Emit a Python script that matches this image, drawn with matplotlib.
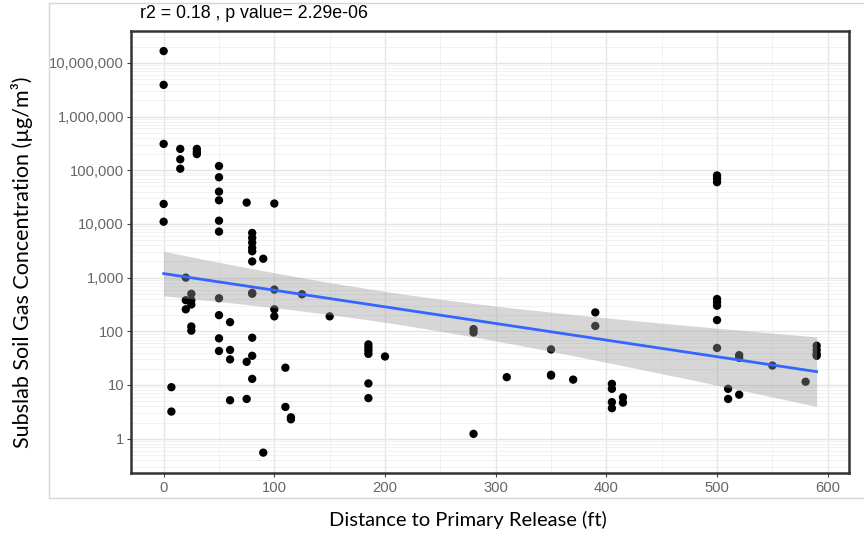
import numpy as np
import matplotlib
matplotlib.use("Agg")
import matplotlib.pyplot as plt
from matplotlib.ticker import FixedLocator, FuncFormatter
from matplotlib.lines import Line2D

# ---- data ----
distance_ft = [
    0, 0, 0, 0, 0,
    7, 7,
    15, 15, 15,
    20, 20, 20,
    25, 25, 25, 25, 25,
    30, 30, 30,
    50, 50, 50, 50, 50, 50, 50, 50, 50, 50,
    60, 60, 60, 60,
    75, 75, 75,
    80, 80, 80, 80, 80, 80, 80, 80, 80, 80, 80,
    90, 90,
    100, 100, 100, 100,
    110, 110,
    115, 115,
    125,
    150,
    185, 185, 185, 185, 185, 185,
    200,
    280, 280, 280,
    310,
    350, 350, 350,
    370,
    390, 390,
    405, 405, 405, 405,
    415, 415,
    500, 500, 500, 500, 500, 500, 500, 500,
    510, 510,
    520, 520, 520,
    550,
    580,
    590, 590, 590, 590,
]
concentration = [
    1.66e7, 3.9e6, 3.1e5, 2.36e4, 1.1e4,
    9.1, 3.2,
    2.5e5, 1.6e5, 1.07e5,
    1000, 380, 257,
    500, 380, 316, 123, 103,
    2.5e5, 2.2e5, 2.0e5,
    1.2e5, 7.4e4, 4.0e4, 2.76e4, 1.15e4, 7.2e3, 413, 200, 74, 43,
    148, 45, 30, 5.2,
    2.5e4, 27, 5.5,
    6.8e3, 5.5e3, 4.5e3, 3.6e3, 3.1e3, 2.0e3, 520, 500, 76, 35, 13,
    2.25e3, 0.55,
    2.4e4, 600, 257, 190,
    21, 3.9,
    2.5, 2.3,
    490,
    190,
    57, 50, 44, 38, 10.7, 5.7,
    34,
    110, 95, 1.23,
    14,
    46, 15.5, 15,
    12.6,
    225, 126,
    10.5, 8.5, 4.8, 3.7,
    5.9, 4.7,
    8.0e4, 7.0e4, 6.0e4, 400, 350, 300, 162, 49,
    8.5, 5.5,
    36, 32, 6.6,
    23,
    11.5,
    54, 45, 38, 35,
]
x_ticks = [0, 100, 200, 300, 400, 500, 600]
y_ticks = [1, 10, 100, 1000, 10000, 100000, 1000000, 10000000]
title_text = "r2 = 0.18 , p value= 2.29e-06"
x_label = "Distance to Primary Release (ft)"
y_label = "Subslab Soil Gas Concentration (\u00b5g/m\u00b3)"

x = np.array(distance_ft, dtype=float)
y = np.array(concentration, dtype=float)
ly = np.log10(y)

# linear fit on log10 scale with 95% confidence band (like geom_smooth(method="lm"))
n = len(x)
slope, intercept = np.polyfit(x, ly, 1)
resid = ly - (intercept + slope * x)
s = np.sqrt(np.sum(resid ** 2) / (n - 2))
xbar = x.mean()
sxx = np.sum((x - xbar) ** 2)
xs = np.linspace(x.min(), x.max(), 200)
fit = intercept + slope * xs
se = s * np.sqrt(1.0 / n + (xs - xbar) ** 2 / sxx)
tval = 1.984
lo = 10 ** (fit - tval * se)
hi = 10 ** (fit + tval * se)

# ---- figure ----
W, H = 864, 533
fig = plt.figure(figsize=(W / 100, H / 100), dpi=100)
fig.patch.set_facecolor("white")

# light frame around the embedded plot image
frame_col = "#D6D6D6"
for (x0, y0, x1, y1) in [(49, 3, 49, 498), (49, 3, 864, 3), (49, 498, 864, 498)]:
    fig.add_artist(Line2D([x0 / W, x1 / W], [1 - y0 / H, 1 - y1 / H],
                          transform=fig.transFigure, color=frame_col, lw=1.0))

left, right, top, bottom = 131, 849.3, 31, 472.7
ax = fig.add_axes([left / W, 1 - bottom / H, (right - left) / W, (bottom - top) / H])
ax.set_yscale("log")

# ranges with 5% expansion (ggplot default)
xr = x.max() - x.min()
ax.set_xlim(x.min() - 0.05 * xr, x.max() + 0.05 * xr)
lr = ly.max() - ly.min()
ax.set_ylim(10 ** (ly.min() - 0.05 * lr), 10 ** (ly.max() + 0.05 * lr))

# grid lines
for xv in np.arange(0, 601, 100):
    ax.axvline(xv, color="#E6E6E6", lw=1.0, zorder=0)
for xv in np.arange(50, 601, 100):
    ax.axvline(xv, color="#F0F0F0", lw=0.6, zorder=0)
for dec in range(-1, 8):
    for m in range(2, 10):
        ax.axhline(m * 10.0 ** dec, color="#EFEFEF", lw=0.6, zorder=0)
for yv in y_ticks:
    ax.axhline(yv, color="#E4E4E4", lw=1.0, zorder=0)

ax.scatter(x, y, s=36, color="black", edgecolors="none", zorder=2)
ax.fill_between(xs, lo, hi, color="#999999", alpha=0.4, lw=0, zorder=3)
ax.plot(xs, 10 ** fit, color="#3366FF", lw=2.0, zorder=4)

ax.xaxis.set_major_locator(FixedLocator(x_ticks))
ax.yaxis.set_major_locator(FixedLocator(y_ticks))
ax.yaxis.set_minor_locator(FixedLocator([]))
ax.yaxis.set_major_formatter(FuncFormatter(lambda v, p: "{:,}".format(int(round(v)))))

for lab in ax.get_xticklabels() + ax.get_yticklabels():
    lab.set_fontfamily("Liberation Sans")
    lab.set_fontsize(10.6)
ax.tick_params(axis="both", length=3, width=0.8, color="#444444", labelcolor="#666666", pad=2)
ax.tick_params(axis="x", pad=3)

for sp in ax.spines.values():
    sp.set_color("#333333")
    sp.set_linewidth(1.8)

fig.text(140 / W, 1 - 13 / H, title_text, ha="left", va="center",
         fontsize=12.8, family="Liberation Sans", color="black")
fig.text(468 / W, 1 - 520 / H, x_label, ha="center", va="center",
         fontsize=14.5, family="Lato", color="black")
fig.text(22 / W, 1 - 262 / H, y_label, ha="center", va="center", rotation=90,
         fontsize=15.5, family="Lato", color="black")

fig.savefig("out.png", dpi=100)
